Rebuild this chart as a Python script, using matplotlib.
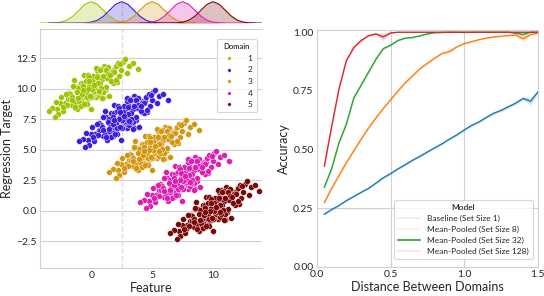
import numpy as np
import matplotlib
matplotlib.use("Agg")
import matplotlib.pyplot as plt
from matplotlib.lines import Line2D

plt.rcParams['font.family'] = ['Lato', 'DejaVu Sans']

# ---- left panel data ----
domains = ["1", "2", "3", "4", "5"]
domain_colors = ["#9cc400", "#3c1ee0", "#d4960f", "#dc1eb4", "#7a0606"]
center_feature = [0.0, 2.5, 5.0, 7.5, 10.0]
center_target = [10.0, 7.5, 5.0, 2.5, 0.0]

# shape of one sample cloud (offsets from the domain centre)
cloud_dx = [0.12, -0.85, 1.40, -1.62, 0.55, -0.30, 2.10, -2.25, 0.80, -0.05,
            1.05, -1.10, 0.35, -0.60, 1.75, -1.45, 0.95, -0.20, 2.60, -2.80,
            0.40, -0.75, 1.25, -1.30, 0.65, -0.45, 1.55, -1.85, 0.20, -0.95,
            3.10, -3.20, 0.70, -0.15, 1.90, -2.00, 0.05, -0.65, 1.15, -1.25,
            0.50, -0.35, 2.30, -2.45, 0.90, -0.90, 1.35, -1.55, 0.25, -0.10,
            1.65, -1.70, 0.60, -0.55, 2.00, -2.15, 0.85, -0.25, 1.20, -1.05,
            0.30, -0.80, 1.50, -1.35, 0.00, -0.40, 2.45, -2.55, 0.75, -0.70,
            1.00, -1.15, 0.45, -0.05, 1.80, -1.90, 0.15, -0.50, 3.40, -3.50,
            1.10, -1.00, 0.55, -0.30, 1.45, -1.50, 0.35, -0.60, 2.20, -2.30,
            0.95, -0.20, 1.30, -1.20, 0.10, -0.85, 1.70, -1.75, 0.65, -0.45,
            2.75, -2.70, 0.80, -0.95, 1.20, -1.40, 0.25, -0.15, 1.60, -1.60,
            0.50, -0.70, 2.05, -2.05, 0.90, -0.35, 1.35, -1.30, 0.40, -0.55,
            3.80, -3.00, 0.05, -1.05, 1.85, -1.95, 0.70, -0.25, 2.40, -2.35,
            1.00, -0.75, 0.20, -0.10, 1.55, -1.55, 0.60, -0.65, 2.90, -2.90]
cloud_dy = [-0.25, 0.50, 0.95, -0.80, 0.15, -0.60, 0.55, -1.50, 1.00, 0.40,
            1.90, -1.15, 0.20, 1.15, 1.50, 0.15, -0.65, -0.75, 2.20, -1.70,
            -0.70, -0.35, 0.95, -1.55, 1.65, -1.05, 0.75, -0.35, -0.45, -0.70,
            1.90, -1.60, 0.90, 0.20, 1.50, -1.15, -0.65, 0.50, -0.10, 0.15,
            1.15, -1.25, 1.05, -0.65, 0.80, -0.20, 1.75, -1.35, -0.25, 0.65,
            0.60, -0.45, -0.50, -0.70, 1.85, -1.20, 1.60, -0.60, 0.15, 0.05,
            0.85, -0.95, 1.00, -1.10, -0.70, 0.65, 1.55, -1.20, 0.50, -1.35,
            -0.75, -0.25, 1.50, -1.70, 0.50, -0.85, 1.05, -0.65, 2.10, -1.80,
            1.55, -1.00, 0.45, 1.10, -0.60, 0.20, -0.15, -0.60, 2.10, -1.80,
            -0.25, 0.95, 0.90, -1.70, 0.60, -1.45, 1.35, -0.85, -0.25, -0.35,
            2.40, -2.10, 0.05, -0.65, 1.55, 0.70, 0.05, 0.60, 0.65, -0.65,
            1.00, 0.20, 0.75, -0.40, -0.80, -0.70, 1.20, -1.50, 1.70, -1.25,
            1.60, -2.30, -0.05, -0.80, 1.35, -1.30, 1.55, 0.00, 2.00, -1.50,
            1.05, -0.40, 0.30, -0.60, 1.10, -0.90, -0.15, -0.10, 1.30, -1.10]

# marginal density of the feature (one bump, shifted per domain)
kde_offsets = [-6, -4, -3.5, -3, -2.5, -2, -1.5, -1, -0.5, 0,
               0.5, 1, 1.5, 2, 2.5, 3, 3.5, 4, 6]
kde_density = [0.0, 0.0005, 0.003, 0.012, 0.045, 0.13, 0.32, 0.6, 0.88, 1.0,
               0.88, 0.6, 0.32, 0.13, 0.045, 0.012, 0.003, 0.0005, 0.0]

# ---- right panel data ----
distance = [0.05, 0.10, 0.15, 0.20, 0.25, 0.30, 0.35, 0.40, 0.45, 0.50,
            0.55, 0.60, 0.65, 0.70, 0.75, 0.80, 0.85, 0.90, 0.95, 1.00,
            1.05, 1.10, 1.15, 1.20, 1.25, 1.30, 1.35, 1.40, 1.45, 1.50]
acc_baseline = [0.225, 0.245, 0.262, 0.283, 0.300, 0.318, 0.335, 0.357, 0.380, 0.398,
                0.418, 0.436, 0.455, 0.472, 0.490, 0.508, 0.525, 0.545, 0.563, 0.584,
                0.603, 0.618, 0.637, 0.655, 0.667, 0.683, 0.698, 0.718, 0.706, 0.745]
acc_set8 = [0.275, 0.335, 0.390, 0.445, 0.495, 0.545, 0.592, 0.635, 0.675, 0.712,
            0.750, 0.785, 0.815, 0.845, 0.868, 0.890, 0.910, 0.918, 0.938, 0.952,
            0.960, 0.968, 0.975, 0.980, 0.983, 0.986, 0.988, 0.972, 0.990, 0.996]
acc_set32 = [0.340, 0.420, 0.530, 0.610, 0.720, 0.775, 0.830, 0.885, 0.930, 0.945,
             0.965, 0.975, 0.978, 0.985, 0.993, 0.998, 0.999, 1.000, 1.000, 0.999,
             1.000, 1.000, 1.000, 1.000, 1.000, 1.000, 0.996, 0.990, 1.000, 1.000]
acc_set128 = [0.430, 0.600, 0.760, 0.880, 0.935, 0.965, 0.985, 0.993, 0.980, 0.997,
              1.000, 1.000, 1.000, 1.000, 1.000, 1.000, 1.000, 1.000, 1.000, 1.000,
              1.000, 1.000, 1.000, 1.000, 1.000, 1.000, 1.000, 1.000, 1.000, 1.000]
# half width of the confidence band
band_baseline = [0.004, 0.003, 0.003, 0.003, 0.003, 0.003, 0.003, 0.004, 0.004, 0.004,
                 0.004, 0.004, 0.004, 0.004, 0.004, 0.004, 0.004, 0.004, 0.005, 0.005,
                 0.005, 0.005, 0.005, 0.005, 0.006, 0.006, 0.006, 0.008, 0.016, 0.008]
band_set8 = [0.006, 0.004, 0.004, 0.004, 0.004, 0.004, 0.004, 0.004, 0.004, 0.004,
             0.004, 0.004, 0.004, 0.004, 0.004, 0.004, 0.005, 0.008, 0.004, 0.004,
             0.003, 0.003, 0.003, 0.003, 0.003, 0.003, 0.003, 0.014, 0.003, 0.003]
band_set32 = [0.010, 0.006, 0.006, 0.008, 0.006, 0.006, 0.006, 0.006, 0.006, 0.005,
              0.004, 0.003, 0.003, 0.003, 0.002, 0.001, 0.001, 0.000, 0.000, 0.001,
              0.000, 0.000, 0.000, 0.000, 0.000, 0.000, 0.004, 0.008, 0.000, 0.000]
band_set128 = [0.012, 0.008, 0.006, 0.006, 0.005, 0.004, 0.003, 0.003, 0.016, 0.002,
               0.000, 0.000, 0.000, 0.000, 0.000, 0.000, 0.000, 0.000, 0.000, 0.000,
               0.000, 0.000, 0.000, 0.000, 0.000, 0.000, 0.000, 0.000, 0.000, 0.000]
model_names = ["Baseline (Set Size 1)", "Mean-Pooled (Set Size 8)",
               "Mean-Pooled (Set Size 32)", "Mean-Pooled (Set Size 128)"]
model_colors = ["#1f77b4", "#ff7f0e", "#2ca02c", "#d62728"]

grid_c = "#d0d0d0"
text_c = "#262626"

fig = plt.figure(figsize=(5.44, 2.96), dpi=100)
ax = fig.add_axes([0.0735, 0.095, 0.408, 0.807])
axm = fig.add_axes([0.0735, 0.922, 0.408, 0.078], sharex=ax)
ax2 = fig.add_axes([0.5827, 0.098, 0.406, 0.801])

# scatter clouds
for i in range(len(domains)):
    xs = np.array(cloud_dx) + center_feature[i]
    ys = np.array(cloud_dy) + center_target[i]
    ax.scatter(xs, ys, s=18, color=domain_colors[i], edgecolor="white",
               linewidth=0.3, zorder=3)
    kx = np.array(kde_offsets) + center_feature[i]
    axm.fill_between(kx, kde_density, color=domain_colors[i], alpha=0.25, lw=0)
    axm.plot(kx, kde_density, color=domain_colors[i], lw=0.8)

ax.axvline(2.5, color="#dddddd", ls="--", lw=1.0, zorder=1)
axm.axvline(2.5, color="#dddddd", ls="--", lw=1.0, zorder=0)

ax.set_xlim(-4.2, 14.0)
ax.set_ylim(-4.7, 14.9)
ax.set_xticks([0, 5, 10])
ax.set_yticks([-2.5, 0.0, 2.5, 5.0, 7.5, 10.0, 12.5])
ax.set_yticklabels(["\u22122.5", "0.0", "2.5", "5.0", "7.5", "10.0", "12.5"])
ax.grid(axis="y", color=grid_c, lw=0.8)
ax.set_axisbelow(True)
for side in ["left", "bottom", "top"]:
    ax.spines[side].set_color(grid_c)
ax.spines["right"].set_visible(False)
ax.tick_params(length=0, labelsize=7.5, colors=text_c, pad=2.5)
ax.set_xlabel("Feature", fontsize=9, color=text_c, labelpad=1)
ax.set_ylabel("Regression Target", fontsize=9, color=text_c, labelpad=2)

handles = [Line2D([], [], marker="o", ls="", color=c, markersize=2.5,
                  markeredgecolor="white", markeredgewidth=0.2)
           for c in domain_colors]
leg = ax.legend(handles, domains, title="Domain", loc="upper right",
                fontsize=6, title_fontsize=5.5, frameon=True,
                markerfirst=True, handletextpad=1.2, labelspacing=0.55,
                borderpad=0.5, bbox_to_anchor=(0.995, 0.975))
leg.get_frame().set_edgecolor("#cccccc")
leg.get_frame().set_linewidth(0.8)
for t in leg.get_texts():
    t.set_color(text_c)

axm.set_ylim(0, 1.08)
axm.axis("off")

# accuracy curves
accs = [acc_baseline, acc_set8, acc_set32, acc_set128]
bands = [band_baseline, band_set8, band_set32, band_set128]
for acc, band, c in zip(accs, bands, model_colors):
    a = np.array(acc)
    b = np.array(band)
    ax2.fill_between(distance, a - b, np.minimum(a + b, 1.0), color=c,
                     alpha=0.2, lw=0)
    ax2.plot(distance, acc, color=c, lw=1.0)

ax2.axhline(0.25, color=grid_c, lw=0.8, zorder=0)
ax2.set_xlim(0, 1.5)
ax2.set_ylim(0, 1.01)
ax2.set_xticks([0.0, 0.5, 1.0, 1.5])
ax2.set_yticks([0.0, 0.25, 0.5, 0.75, 1.0])
ax2.set_yticklabels(["0.00", "0.25", "0.50", "0.75", "1.00"])
ax2.grid(axis="x", color=grid_c, lw=0.8)
ax2.set_axisbelow(True)
for side in ax2.spines:
    ax2.spines[side].set_color(grid_c)
ax2.tick_params(length=0, labelsize=7.5, colors=text_c, pad=2.5)
ax2.set_xlabel("Distance Between Domains", fontsize=9, color=text_c, labelpad=1)
ax2.set_ylabel("Accuracy", fontsize=9, color=text_c, labelpad=2)

mh = [Line2D([], [], color=model_colors[0], alpha=0.12, lw=1.2),
      Line2D([], [], color=model_colors[1], alpha=0.12, lw=1.2),
      Line2D([], [], color=model_colors[2], lw=1.2),
      Line2D([], [], color=model_colors[3], alpha=0.12, lw=1.2)]
leg2 = ax2.legend(mh, model_names, title="Model", loc="lower right",
                  fontsize=6, title_fontsize=6, frameon=True,
                  handlelength=2.6, borderpad=0.5, labelspacing=0.45,
                  bbox_to_anchor=(0.995, 0.015))
leg2.get_frame().set_edgecolor("#cccccc")
leg2.get_frame().set_linewidth(0.8)
for t in leg2.get_texts():
    t.set_color(text_c)

fig.savefig("out.png", dpi=100)
